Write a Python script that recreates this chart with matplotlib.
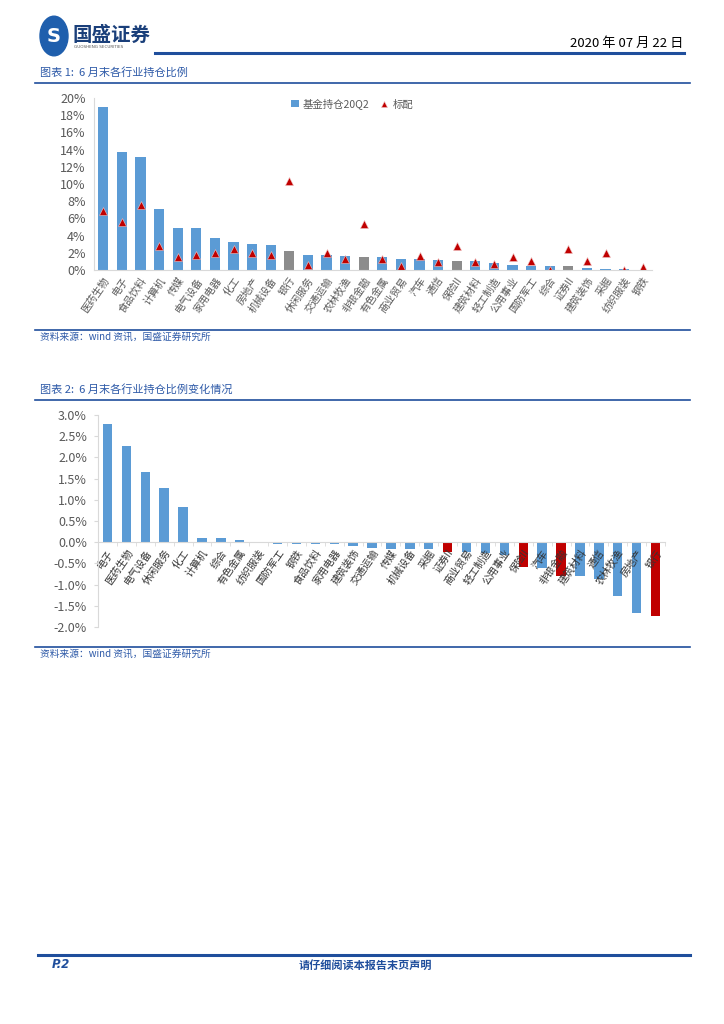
import numpy as np
import matplotlib
matplotlib.use("Agg")
import matplotlib.pyplot as plt
from matplotlib.lines import Line2D
from matplotlib.patches import Circle

plt.rcParams['font.family'] = ['Noto Sans CJK SC', 'DejaVu Sans']

# chart 1: fund holdings by industry at end of June (%)
IND1 = ["医药生物", "电子", "食品饮料", "计算机", "传媒", "电气设备", "家用电器", "化工",
        "房地产", "机械设备", "银行", "休闲服务", "交通运输", "农林牧渔", "非银金融",
        "有色金属", "商业贸易", "汽车", "通信", "保险II", "建筑材料", "轻工制造",
        "公用事业", "国防军工", "综合", "证券II", "建筑装饰", "采掘", "纺织服装", "钢铁"]
HOLD1 = [19.0, 13.7, 13.1, 7.1, 4.85, 4.85, 3.7, 3.2, 3.07, 2.87, 2.2, 1.8, 1.7, 1.6, 1.5,
         1.5, 1.3, 1.3, 1.15, 1.1, 1.0, 0.8, 0.6, 0.45, 0.45, 0.45, 0.25, 0.12, 0.08, 0.02]
STD1 = [6.9, 5.6, 7.6, 2.8, 1.5, 1.7, 1.95, 2.5, 2.0, 1.7, 10.4, 0.55, 1.95, 1.3, 5.3,
        1.25, 0.45, 1.65, 0.9, 2.8, 0.9, 0.65, 1.55, 1.0, 0.0, 2.5, 1.1, 2.0, 0.0, 0.35]

# chart 2: change in holdings (%)
IND2 = ["电子", "医药生物", "电气设备", "休闲服务", "化工", "计算机", "综合", "有色金属",
        "纺织服装", "国防军工", "钢铁", "食品饮料", "家用电器", "建筑装饰", "交通运输",
        "传媒", "机械设备", "采掘", "证券II", "商业贸易", "轻工制造", "公用事业", "保险II",
        "汽车", "非银金融", "建筑材料", "通信", "农林牧渔", "房地产", "银行"]
CHG2 = [2.79, 2.27, 1.65, 1.28, 0.82, 0.11, 0.11, 0.05, -0.03, -0.05, -0.05, -0.05, -0.05,
        -0.10, -0.13, -0.15, -0.15, -0.17, -0.22, -0.24, -0.26, -0.30, -0.59, -0.61, -0.79,
        -0.80, -0.86, -1.27, -1.66, -1.73]

FIN = {"银行", "非银金融", "保险II", "证券II"}

BLUE = "#5B9BD5"
GRAY = "#8C8C8C"
RED = "#C00000"
NAVY = "#1F4E9C"
TXT = "#2E5AA8"
TICK = "#595959"
AX = "#D9D9D9"

W, H = 724, 1024
fig = plt.figure(figsize=(W / 100, H / 100), dpi=100)


def fx(x):
    return x / W


def fy(y):
    return 1 - y / H


def hline(x0, x1, y, lw, color=NAVY):
    fig.add_artist(Line2D([fx(x0), fx(x1)], [fy(y), fy(y)], lw=lw, color=color))


# header
fig.add_artist(Circle((fx(54), fy(36)), 14 / W, transform=fig.transFigure,
                      color="#1F5FAD"))
fig.text(fx(54), fy(37), "S", color="white", fontsize=14, fontweight="bold",
         ha="center", va="center", family="DejaVu Sans")
fig.text(fx(73), fy(35), "国盛证券", color="#1A3F7A", fontsize=14, fontweight="bold",
         ha="left", va="center")
fig.text(fx(74), fy(47), "GUOSHENG SECURITIES", color="#555555", fontsize=3,
         ha="left", va="center", family="DejaVu Sans")
fig.text(fx(683), fy(43), "2020 年 07 月 22 日", color="black", fontsize=9.5,
         ha="right", va="center")
hline(155, 684, 53, 2.2)

# chart 1 frame texts
fig.text(fx(40), fy(72), "图表 1:  6 月末各行业持仓比例", color=TXT, fontsize=8,
         style="italic", ha="left", va="center")
hline(35, 690, 83, 1.2)
hline(35, 690, 330, 1.2)
fig.text(fx(40), fy(337), "资料来源：wind 资讯，国盛证券研究所", color=TXT, fontsize=7,
         style="italic", ha="left", va="center")

ax1 = fig.add_axes([fx(94), fy(270), fx(652) - fx(94), fy(98) - fy(270)])
x1 = np.arange(len(IND1))
c1 = [GRAY if n in FIN else BLUE for n in IND1]
bars1 = ax1.bar(x1, HOLD1, width=0.55, color=c1, label="基金持仓20Q2")
tri1, = ax1.plot(x1, STD1, ls="none", marker="^", ms=5.5, color=RED,
                 mec="#F2C4C4", mew=0.4, label="标配")
ax1.set_xlim(-0.5, len(IND1) - 0.5)
ax1.set_ylim(0, 20)
ax1.set_yticks(np.arange(0, 21, 2))
ax1.set_yticklabels([f"{v}%" for v in range(0, 21, 2)])
ax1.set_xticks(x1)
ax1.set_xticklabels(IND1, rotation=55, ha="right", rotation_mode="anchor",
                    fontsize=7.3, color=TICK)
ax1.tick_params(axis="y", labelsize=9, colors=TICK, length=0, pad=6)
ax1.tick_params(axis="x", length=0, pad=4)
for s in ["top", "right"]:
    ax1.spines[s].set_visible(False)
for s in ["left", "bottom"]:
    ax1.spines[s].set_color(AX)
fig.legend([bars1, tri1], ["基金持仓20Q2", "标配"], loc="center", ncol=2,
           frameon=False, bbox_to_anchor=(fx(352), fy(104)), fontsize=7.5,
           labelcolor=TICK, handlelength=0.8, handletextpad=0.4, columnspacing=1.0,
           markerscale=0.9)

# chart 2 frame texts
fig.text(fx(40), fy(389), "图表 2:  6 月末各行业持仓比例变化情况", color=TXT, fontsize=8,
         style="italic", ha="left", va="center")
hline(35, 690, 400, 1.2)
hline(35, 690, 647, 1.2)
fig.text(fx(40), fy(654), "资料来源：wind 资讯，国盛证券研究所", color=TXT, fontsize=7,
         style="italic", ha="left", va="center")

ax2 = fig.add_axes([fx(98), fy(627), fx(665) - fx(98), fy(415) - fy(627)])
x2 = np.arange(len(IND2))
c2 = [RED if n in FIN else BLUE for n in IND2]
ax2.bar(x2, CHG2, width=0.5, color=c2)
ax2.set_xlim(-0.5, len(IND2) - 0.5)
ax2.set_ylim(-2.0, 3.0)
yt = np.arange(-2.0, 3.01, 0.5)
ax2.set_yticks(yt)
ax2.set_yticklabels([f"{v:.1f}%" for v in yt])
ax2.tick_params(axis="y", labelsize=9, colors=TICK, length=3, pad=5, color=AX)
ax2.spines["bottom"].set_position(("data", 0))
ax2.set_xticks(x2)
ax2.set_xticklabels(IND2, rotation=55, ha="right", rotation_mode="anchor",
                    fontsize=7.3, color="#333333")
ax2.set_xticks(np.arange(-0.5, len(IND2), 1), minor=True)
ax2.tick_params(axis="x", which="major", length=0, pad=4)
ax2.tick_params(axis="x", which="minor", length=3, color=AX)
for s in ["top", "right"]:
    ax2.spines[s].set_visible(False)
for s in ["left", "bottom"]:
    ax2.spines[s].set_color(AX)

# footer
hline(38, 690, 955, 2.2)
fig.text(fx(52), fy(965), "P.2", color=NAVY, fontsize=8.5, fontweight="bold",
         style="italic", ha="left", va="center", family="DejaVu Sans")
fig.text(fx(365), fy(965), "请仔细阅读本报告末页声明", color=NAVY, fontsize=8,
         fontweight="bold", style="italic", ha="center", va="center")

fig.savefig("out.png", dpi=100)
